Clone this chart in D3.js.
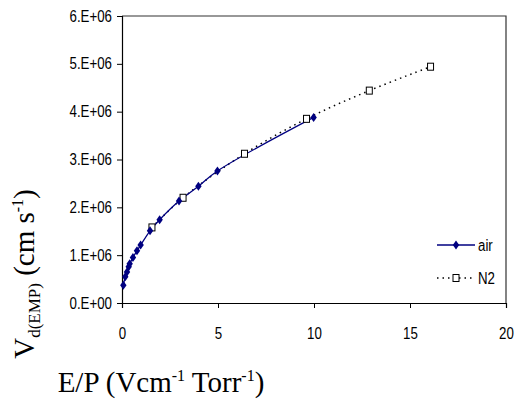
<!DOCTYPE html>
<html>
<head>
<meta charset="utf-8">
<script src="https://cdn.jsdelivr.net/npm/d3@7"></script>
<style>
  body { margin: 0; background: #fff; }
  .tick text, .lt { font-family: "Liberation Sans", Arial, sans-serif; font-size: 16px; }
  .title { font-family: "Liberation Serif", "Times New Roman", serif; font-size: 29px; fill: #000; }
</style>
</head>
<body>
<svg id="chart" width="515" height="410"></svg>
<script>
// E/P values (V cm-1 Torr-1) and drift velocity (cm/s)
const airX = [0.07, 0.17, 0.26, 0.35, 0.4, 0.57, 0.78, 0.97, 1.46, 1.96, 2.97, 3.98, 4.97, 9.98];
const airY = [0.37e6, 0.55e6, 0.65e6, 0.76e6, 0.82e6, 0.95e6, 1.09e6, 1.21e6, 1.51e6, 1.74e6, 2.13e6, 2.44e6, 2.76e6, 3.88e6];
const n2X = [1.56, 3.18, 6.38, 9.61, 12.88, 16.07];
const n2Y = [1.58e6, 2.20e6, 3.12e6, 3.85e6, 4.44e6, 4.94e6];
const xTicks = [0, 5, 10, 15, 20];
const yTicks = [0, 1e6, 2e6, 3e6, 4e6, 5e6, 6e6];

const margin = { top: 16, right: 9, bottom: 107, left: 122 };
const svg = d3.select("#chart");
const width = 515 - margin.left - margin.right;
const height = 410 - margin.top - margin.bottom;

const g = svg.append("g")
  .attr("transform", `translate(${margin.left},${margin.top})`);

const x = d3.scaleLinear().domain([0, 20]).range([0, width]);
const y = d3.scaleLinear().domain([0, 6e6]).range([height, 0]);

// plot area frame (top + right)
g.append("path")
  .attr("d", `M0,0H${width}V${height}`)
  .attr("fill", "none")
  .attr("stroke", "#333")
  .attr("stroke-width", 1.2);

const fmtY = v => v === 0 ? "0.E+00" : `${v / 1e6}.E+06`;

const xAxis = g.append("g")
  .attr("transform", `translate(0,${height})`)
  .call(d3.axisBottom(x).tickValues(xTicks).tickSize(5).tickPadding(20));
const yAxis = g.append("g")
  .call(d3.axisLeft(y).tickValues(yTicks).tickFormat(fmtY).tickSize(5).tickPadding(5));

[xAxis, yAxis].forEach(a => {
  a.select(".domain").attr("stroke", "#000").attr("stroke-width", 1.2);
  a.selectAll(".tick line").attr("stroke", "#000");
  a.selectAll(".tick text").attr("fill", "#000");
});

const air = airX.map((v, i) => [v, airY[i]]);
const n2 = n2X.map((v, i) => [v, n2Y[i]]);

const line = d3.line()
  .x(d => x(d[0]))
  .y(d => y(d[1]))
  .curve(d3.curveCatmullRom.alpha(0.5));

// N2 dotted
g.append("path")
  .datum(n2)
  .attr("d", line)
  .attr("fill", "none")
  .attr("stroke", "#000")
  .attr("stroke-width", 1.5)
  .attr("stroke-dasharray", "1.5,4");

// air line
g.append("path")
  .datum(air)
  .attr("d", line)
  .attr("fill", "none")
  .attr("stroke", "#000080")
  .attr("stroke-width", 1.3);

const diamond = "M0,-4.5L3.2,0L0,4.5L-3.2,0Z";

g.selectAll(".sq")
  .data(n2)
  .join("rect")
  .attr("class", "sq")
  .attr("x", d => x(d[0]) - 3)
  .attr("y", d => y(d[1]) - 3.5)
  .attr("width", 6)
  .attr("height", 7)
  .attr("fill", "#fff")
  .attr("stroke", "#000")
  .attr("stroke-width", 1);

g.selectAll(".dia")
  .data(air)
  .join("path")
  .attr("class", "dia")
  .attr("d", diamond)
  .attr("transform", d => `translate(${x(d[0])},${y(d[1])})`)
  .attr("fill", "#000080");

// legend
const legend = svg.append("g").attr("transform", "translate(437,0)");
legend.append("line")
  .attr("x1", 0).attr("x2", 38).attr("y1", 245).attr("y2", 245)
  .attr("stroke", "#000080").attr("stroke-width", 1.3);
legend.append("path")
  .attr("d", diamond)
  .attr("transform", "translate(19,245)")
  .attr("fill", "#000080");
legend.append("line")
  .attr("x1", 0).attr("x2", 38).attr("y1", 278).attr("y2", 278)
  .attr("stroke", "#000").attr("stroke-width", 1.5)
  .attr("stroke-dasharray", "1.5,4");
legend.append("rect")
  .attr("x", 16).attr("y", 274.5).attr("width", 6).attr("height", 7)
  .attr("fill", "#fff").attr("stroke", "#000");
legend.selectAll(".lt")
  .data([["air", 251], ["N2", 284]])
  .join("text")
  .attr("class", "lt")
  .attr("x", 41)
  .attr("y", d => d[1])
  .text(d => d[0]);

// narrow the sans labels like the original
svg.selectAll(".tick text, .lt").each(function() {
  const w = this.getComputedTextLength();
  d3.select(this)
    .attr("textLength", w * 0.83)
    .attr("lengthAdjust", "spacingAndGlyphs");
});

// axis titles
const xt = svg.append("text")
  .attr("class", "title")
  .attr("x", 161)
  .attr("y", 392)
  .attr("text-anchor", "middle");
xt.append("tspan").text("E/P (Vcm");
xt.append("tspan").attr("font-size", 16).attr("dy", -11).text("-1");
xt.append("tspan").attr("dy", 11).text(" Torr");
xt.append("tspan").attr("font-size", 16).attr("dy", -11).text("-1");
xt.append("tspan").attr("dy", 11).text(")");

const yt = svg.append("text")
  .attr("class", "title")
  .attr("transform", "translate(34,274) rotate(-90)")
  .attr("text-anchor", "middle");
yt.append("tspan").text("V");
yt.append("tspan").attr("font-size", 17).attr("dy", 6).text("d(EMP)");
yt.append("tspan").attr("dy", -6).text(" (cm s");
yt.append("tspan").attr("font-size", 16).attr("dy", -11).text("-1");
yt.append("tspan").attr("dy", 11).text(")");
</script>
</body>
</html>
